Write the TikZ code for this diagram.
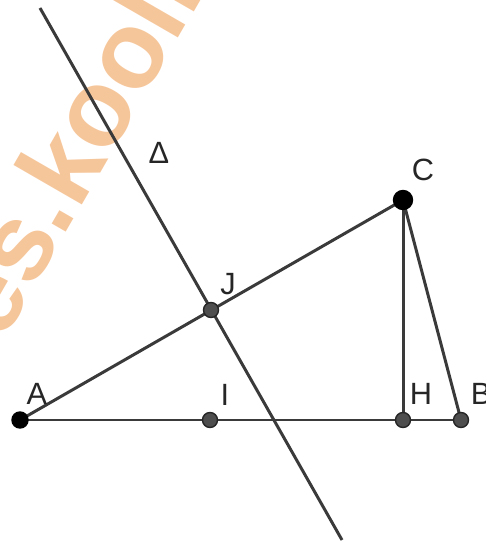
\documentclass[tikz,border=0pt]{standalone}
\usepackage{fontspec}
\setmainfont{Liberation Sans}
\usepackage{tikz}
\definecolor{segline}{RGB}{58,58,58}
\definecolor{ptgray}{RGB}{78,78,78}
\definecolor{wmark}{RGB}{246,198,155}

\begin{document}
\begin{tikzpicture}[
        x=0.02cm, y=-0.02cm,
        font=\fontsize{17.5}{20}\selectfont,
        seg/.style={draw=segline, line width=1.7pt},
        dot/.style={
            circle,
            fill=ptgray,
            draw=black!85,
            line width=0.8pt,
            inner sep=0pt,
            minimum size=3mm
        },
        bigdot/.style={dot, fill=black, draw=black},
        lbl/.style={inner sep=0pt, text=black!85},
        wm/.style={
            text=wmark,
            rotate=60,
            inner sep=0pt,
            font=\fontsize{62}{62}\selectfont\bfseries
        }
    ]

    \useasboundingbox (0,0) rectangle (485,543);
    \clip (0,0) rectangle (485,543);

    % watermark
    \node[wm] (mark) at (70,148) {es.kooli};

    % points of the figure
    \coordinate (A) at (20,420);
    \coordinate (I) at (210,420);
    \coordinate (H) at (403,420);
    \coordinate (B) at (461,420);
    \coordinate (C) at (403,200);
    \coordinate (J) at (211,310);
    \coordinate (d1) at (40,8);
    \coordinate (d2) at (342,540);

    \draw[seg] (d1) -- (d2);
    \draw[seg] (A) -- (B);
    \draw[seg] (A) -- (C);
    \draw[seg] (C) -- (H);
    \draw[seg] (C) -- (B);

    \node[bigdot, minimum size=3.2mm] (pA) at (A) {};
    \node[bigdot, minimum size=3.8mm] (pC) at (C) {};
    \node[dot] (pI) at (I) {};
    \node[dot] (pH) at (H) {};
    \node[dot] (pB) at (B) {};
    \node[dot] (pJ) at (J) {};

    \node[lbl] (lA) at (37,394) {A};
    \node[lbl] (lI) at (225,395) {I};
    \node[lbl] (lH) at (421,394) {H};
    \node[lbl] (lB) at (481,394) {B};
    \node[lbl] (lC) at (423,170) {C};
    \node[lbl] (lJ) at (228,284) {J};
    \node[lbl] (lD) at (159,153) {Δ};

\end{tikzpicture}
\end{document}
